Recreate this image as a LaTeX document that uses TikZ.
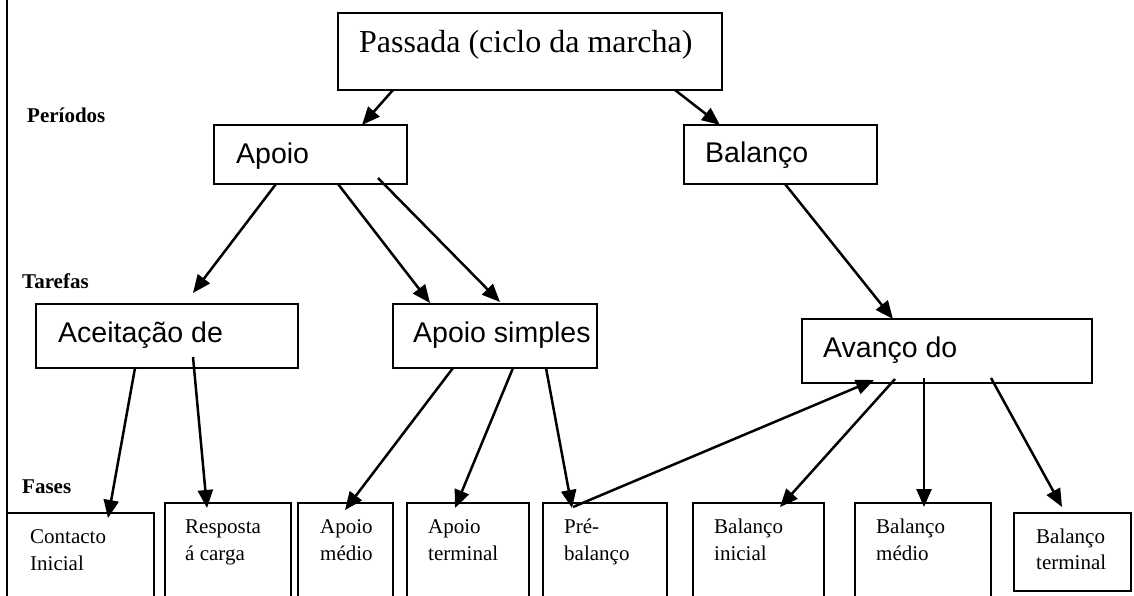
\documentclass[tikz,border=0pt]{standalone}
\usepackage{fontspec}
\setmainfont{Liberation Serif}
\newfontfamily\arialf{Liberation Sans}
\usetikzlibrary{arrows.meta,calc}
\tikzset{
  box/.style={draw, line width=2.4pt, inner sep=0pt, outer sep=0pt, anchor=north west},
  arr/.style={line width=2.5pt, -{Triangle[length=18pt,width=15pt]}},
  bigtxt/.style={anchor=base west, inner sep=0pt, font=\fontsize{32}{38}\selectfont},
  midtxt/.style={anchor=base west, inner sep=0pt, font=\arialf\fontsize{28.5}{34}\selectfont},
  smalltxt/.style={anchor=base west, inner sep=0pt, font=\fontsize{21}{26}\selectfont},
  lbl/.style={anchor=base west, inner sep=0pt, font=\bfseries\fontsize{21}{24}\selectfont}
}
\newcommand\myconn[4]{\draw[arr] ($(#1.north west)+(#2)$) -- ($(#3.north west)+(#4)$);}
\begin{document}
\begin{tikzpicture}[x=1pt,y=-1pt]
\useasboundingbox (0,0) rectangle (1134,595);
\clip (0,0) rectangle (1134,595);
\fill[white] (0,0) rectangle (1134,595);
\draw[line width=2.4pt] (7,-2) -- (7,600);
% boxes
\node[box, minimum width=384pt, minimum height=77pt] (passada) at (338,13) {};
\node[box, minimum width=193pt, minimum height=59pt] (apoio) at (214,125) {};
\node[box, minimum width=193pt, minimum height=59pt] (balanco) at (684,125) {};
\node[box, minimum width=262pt, minimum height=64pt] (aceit) at (36,304) {};
\node[box, minimum width=204pt, minimum height=64pt] (simples) at (393,304) {};
\node[box, minimum width=290pt, minimum height=64pt] (avanco) at (802,319) {};
\node[box, minimum width=147pt, minimum height=100pt] (contacto) at (7,513) {};
\node[box, minimum width=126pt, minimum height=100pt] (resposta) at (165,503) {};
\node[box, minimum width=95pt, minimum height=100pt] (amedio) at (298,503) {};
\node[box, minimum width=122pt, minimum height=100pt] (aterm) at (407,503) {};
\node[box, minimum width=124pt, minimum height=100pt] (pre) at (543,503) {};
\node[box, minimum width=131pt, minimum height=100pt] (binicial) at (693,503) {};
\node[box, minimum width=136pt, minimum height=100pt] (bmedio) at (855,503) {};
\node[box, minimum width=117pt, minimum height=78pt] (bterm) at (1014,513) {};
% texts
\node[bigtxt] (tpassada) at (359,52) {Passada (ciclo da marcha)};
\node[midtxt] (tapoio) at (236,163) {Apoio};
\node[midtxt] (tbalanco) at (705,162) {Balanço};
\node[midtxt] (taceit) at (58,342) {Aceitação de};
\node[midtxt] (tsimples) at (413,342) {Apoio simples};
\node[midtxt] (tavanco) at (823,357) {Avanço do};
\node[lbl] (lper) at (27,122) {Períodos};
\node[lbl] (ltar) at (22,288) {Tarefas};
\node[lbl] (lfas) at (22,493) {Fases};
\node[smalltxt] (t1a) at (30,543) {Contacto};
\node[smalltxt] (t1b) at (30,570) {Inicial};
\node[smalltxt] (t2a) at (185,533) {Resposta};
\node[smalltxt] (t2b) at (185,560) {á carga};
\node[smalltxt] (t3a) at (320,533) {Apoio};
\node[smalltxt] (t3b) at (320,560) {médio};
\node[smalltxt] (t4a) at (428,533) {Apoio};
\node[smalltxt] (t4b) at (428,560) {terminal};
\node[smalltxt] (t5a) at (564,533) {Pré-};
\node[smalltxt] (t5b) at (564,560) {balanço};
\node[smalltxt] (t6a) at (714,533) {Balanço};
\node[smalltxt] (t6b) at (714,560) {inicial};
\node[smalltxt] (t7a) at (876,533) {Balanço};
\node[smalltxt] (t7b) at (876,560) {médio};
\node[smalltxt] (t8a) at (1036,543) {Balanço};
\node[smalltxt] (t8b) at (1036,569) {terminal};
% connectors
\myconn{passada}{55,77}{apoio}{148,0}
\myconn{passada}{337,77}{balanco}{36,0}
\myconn{apoio}{62,59}{aceit}{157,-11}
\myconn{apoio}{124,59}{simples}{37,-1}
\myconn{apoio}{164,53}{simples}{107,-2}
\myconn{balanco}{101,59}{avanco}{91,0}
\myconn{aceit}{99,64}{contacto}{101,5}
\myconn{aceit}{157,53}{resposta}{42,5}
\myconn{simples}{60,64}{amedio}{47,7}
\myconn{simples}{120,64}{aterm}{48,5}
\myconn{simples}{153,64}{pre}{29,5}
\myconn{pre}{30,4}{avanco}{72,61}
\myconn{avanco}{93,60}{binicial}{87,4}
\myconn{avanco}{122,59}{bmedio}{69,4}
\myconn{avanco}{189,59}{bterm}{48,-6}
\end{tikzpicture}
\end{document}
